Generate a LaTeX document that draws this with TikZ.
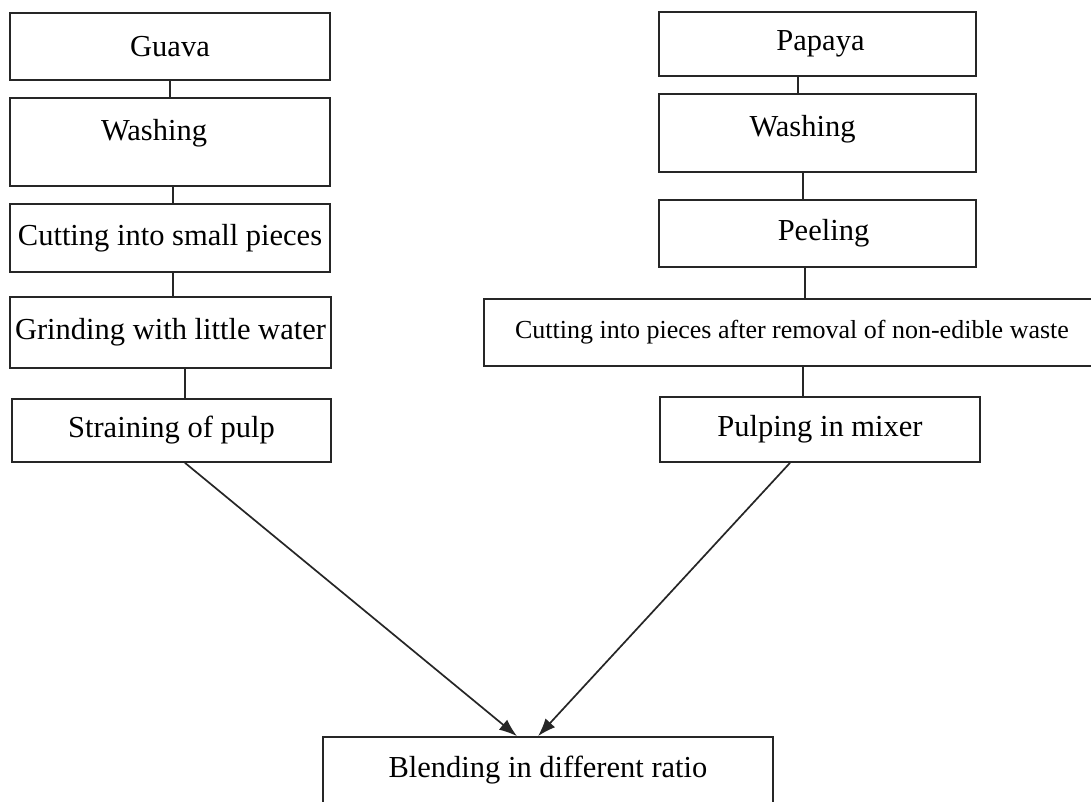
\documentclass[tikz,border=0pt]{standalone}
\usepackage{fontspec}
\setmainfont{Liberation Serif}
\usetikzlibrary{arrows.meta}

\tikzset{
  stepbox/.style 2 args={draw=black!85, line width=1.7pt, rectangle, inner sep=0pt,
    minimum width=#1, minimum height=#2, font=\fontsize{30.5}{36}\selectfont},
  smalltext/.style={font=\fontsize{26}{31}\selectfont},
  link/.style={draw=black!85, line width=1.7pt},
}

\begin{document}
\begin{tikzpicture}[x=1pt, y=-1pt]
\fill[white] (0,0) rectangle (1091,801);
\useasboundingbox (0,0) rectangle (1091,801);

% guava column
\node[stepbox={320pt}{67pt}] (guava) at (170,46.5) {Guava};
\node[stepbox={320pt}{88pt}, text depth=25pt] (wash1) at (170,142) {Washing\kern32pt};
\node[stepbox={320pt}{68pt}] (cut1) at (170,238) {Cutting into small pieces};
\node[stepbox={321pt}{71pt}] (grind) at (170.5,332.5) {Grinding with little water};
\node[stepbox={319pt}{63pt}] (strain) at (171.5,430.5) {Straining of pulp};

% papaya column
\node[stepbox={317pt}{64pt}] (papaya) at (817.5,44) {\kern6pt Papaya};
\node[stepbox={317pt}{78pt}, text depth=15pt] (wash2) at (817.5,133) {Washing\kern30pt};
\node[stepbox={317pt}{67pt}] (peel) at (817.5,233.5) {\kern12pt Peeling};
\node[stepbox={616pt}{67pt}, smalltext] (cut2) at (792,332.5) {Cutting into pieces after removal of non-edible waste};
\node[stepbox={320pt}{65pt}] (pulp) at (820,429.5) {Pulping in mixer};

% end
\node[stepbox={450pt}{66pt}] (blend) at (548,770) {Blending in different ratio};

\draw[link] (guava) -- (wash1);
\draw[link] ([xshift=3pt]wash1.south) -- ([xshift=3pt]wash1.south |- cut1.north);
\draw[link] ([xshift=3pt]cut1.south) -- ([xshift=3pt]cut1.south |- grind.north);
\draw[link] ([xshift=14.5pt]grind.south) -- ([xshift=14.5pt]grind.south |- strain.north);

\draw[link] ([xshift=-19.5pt]papaya.south) -- ([xshift=-19.5pt]papaya.south |- wash2.north);
\draw[link] ([xshift=-14.5pt]wash2.south) -- ([xshift=-14.5pt]wash2.south |- peel.north);
\draw[link] ([xshift=-12.5pt]peel.south) -- ([xshift=-12.5pt]peel.south |- cut2.north);
\draw[link] ([xshift=-17pt]pulp.north) -- ([xshift=-17pt]pulp.north |- cut2.south);

\draw[link, ->, >={Latex[length=18pt,width=13pt]}] ([xshift=13.5pt]strain.south) -- ([xshift=-31pt]blend.north);
\draw[link, ->, >={Latex[length=18pt,width=13pt]}] ([xshift=-30pt]pulp.south) -- ([xshift=-10pt]blend.north);
\end{tikzpicture}
\end{document}
